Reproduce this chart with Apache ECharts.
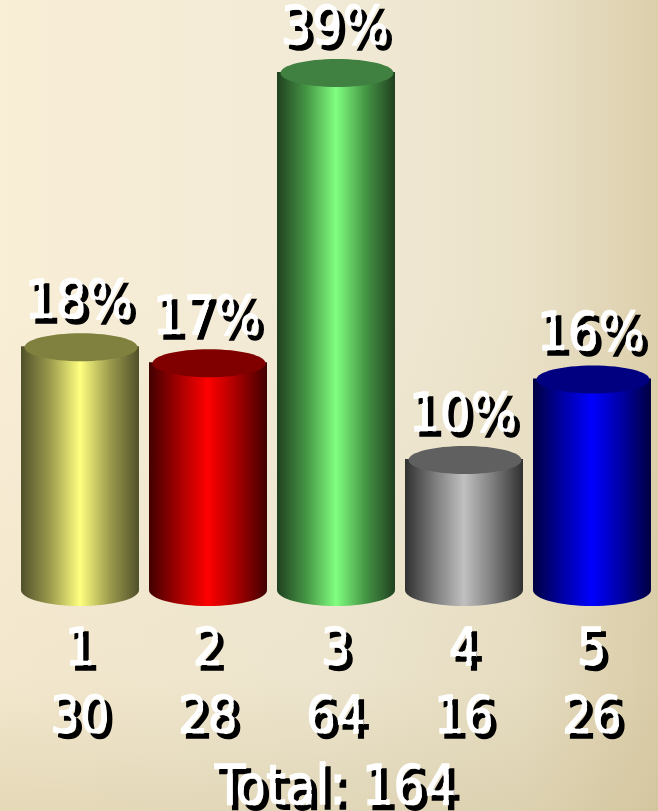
<!DOCTYPE html>
<html><head><meta charset="utf-8">
<style>html,body{margin:0;padding:0;background:#f0e9d6}#c{width:658px;height:811px}</style>
<script src="https://cdn.jsdelivr.net/npm/echarts@6/dist/echarts.min.js"></script>
</head><body><div id="c"></div>
<script>
const categories = ['1','2','3','4','5'];
const counts = [30,28,64,16,26];
const percents = ['18%','17%','39%','10%','16%'];
const totalLabel = 'Total: 164';
const topColors = ['#80803f','#800000','#408040','#606060','#000080'];
const midColors = ['#9c9c4e','#a40000','#459645','#7c7c7c','#0000a4'];
const centerColors = ['#ffff80','#ff0000','#80ff80','#c0c0c0','#0000ff'];
const edgeColors = ['#50502a','#400000','#204020','#303030','#000040'];

const font = '"DejaVu Sans Condensed","DejaVu Sans",sans-serif';
const shadow = {textShadowColor:'#000',textShadowBlur:0.5,textShadowOffsetX:5,textShadowOffsetY:5};
const txt = Object.assign({color:'#fff',fontFamily:font,fontSize:52,textBorderColor:'#fff',textBorderWidth:1.5},shadow);

function grad(i){
  return {type:'linear',x:0,y:0,x2:1,y2:0,colorStops:[
    {offset:0,color:edgeColors[i]},{offset:0.25,color:midColors[i]},
    {offset:0.5,color:centerColors[i]},{offset:0.75,color:midColors[i]},{offset:1,color:edgeColors[i]}]};
}
function renderItem(params,api){
  const i=api.value(0), top=api.coord([i,api.value(1)]), base=api.coord([i,0]);
  const w=118, ry=14, x=top[0]-w/2;
  return {type:'group',children:[
    {type:'ellipse',shape:{cx:base[0],cy:base[1]+2,rx:w/2,ry:ry+2},style:{fill:grad(i)}},
    {type:'rect',shape:{x:x,y:top[1],width:w,height:base[1]+2-top[1]},style:{fill:grad(i)}},
    {type:'ellipse',shape:{cx:top[0]+1,cy:top[1]+1,rx:56.5,ry:ry},style:{fill:topColors[i]}},
    {type:'text',z2:10,style:Object.assign({fill:'#fff',stroke:'#fff',lineWidth:1.5,fontFamily:font,fontSize:54,text:percents[i],x:top[0]-1,y:top[1]-42,align:'center',verticalAlign:'middle'},shadow)}
  ]};
}
const chart=echarts.init(document.getElementById('c'),null,{renderer:'canvas'});
chart.setOption({
  animation:false,
  backgroundColor:{type:'linear',x:0,y:0,x2:1,y2:0,colorStops:[
    {offset:0,color:'#f9eed6'},{offset:0.5,color:'#f1ead6'},{offset:0.8,color:'#eae1c8'},{offset:1,color:'#dccfac'}]},
  graphic:[{type:'rect',silent:true,z:-1,shape:{x:0,y:300,width:658,height:511},
    style:{fill:{type:'linear',x:0,y:0,x2:0,y2:1,colorStops:[{offset:0,color:'rgba(200,185,140,0)'},{offset:0.74,color:'rgba(200,185,140,0.12)'},{offset:1,color:'rgba(200,185,140,0.4)'}]}}}],
  title:{text:totalLabel,left:215,bottom:-9,padding:0,textStyle:Object.assign({},txt,{fontWeight:'normal',lineHeight:60,fontSize:55})},
  grid:{left:16,width:640,top:72,height:516},
  xAxis:{type:'category',data:categories.map((c,i)=>c+'\n'+counts[i]),
    axisLine:{show:false},axisTick:{show:false},
    axisLabel:Object.assign({},txt,{margin:29,lineHeight:68,interval:0})},
  yAxis:{type:'value',min:0,max:64,show:false,splitLine:{show:false}},
  series:[{type:'custom',renderItem:renderItem,clip:false,
    encode:{x:0,y:1},data:counts.map((v,i)=>[i,v])}]
});
</script></body></html>
